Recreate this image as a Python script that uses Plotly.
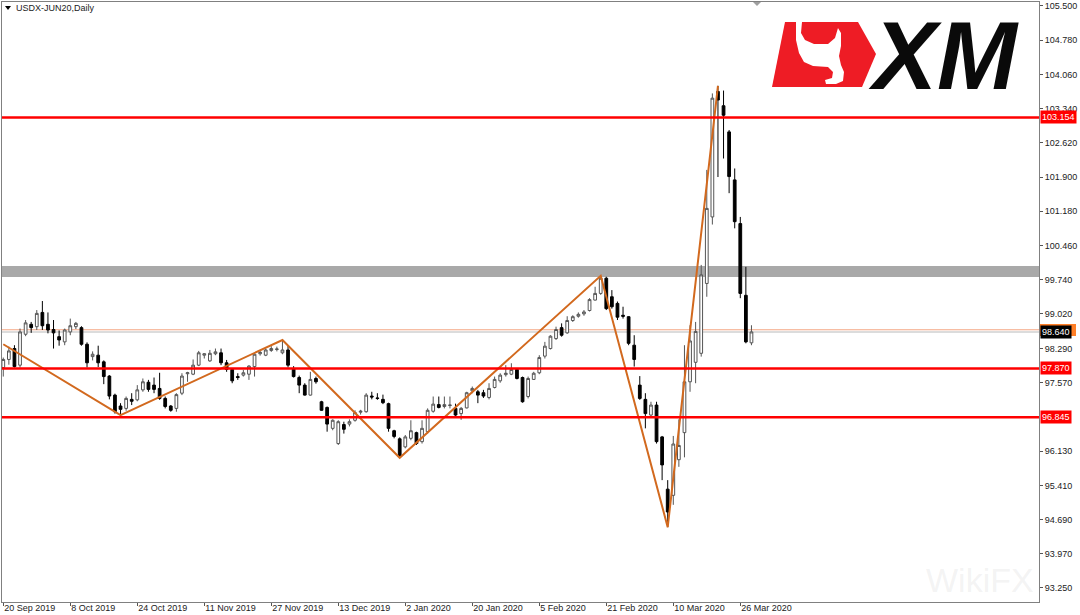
import pandas as pd
import plotly.graph_objects as go

# trading days of the USDX-JUN20 daily chart (no bars on Christmas / New Year)
dates = pd.bdate_range("2019-09-20", "2020-03-30")
dates = [d.strftime("%Y-%m-%d") for d in dates if d.strftime("%m-%d") not in ("12-25", "01-01")]

opens = [
  97.89, 98.06, 98.29, 97.94, 98.59, 98.80, 98.75, 99.05, 98.80, 98.69,
  98.54, 98.43, 98.64, 98.75, 98.73, 98.38, 98.12, 98.15, 98.01, 97.71,
  97.31, 97.08, 97.03, 97.22, 97.21, 97.42, 97.58, 97.52, 97.45, 97.24,
  97.08, 97.03, 97.35, 97.76, 97.75, 97.94, 98.15, 98.03, 98.18, 98.20,
  97.99, 97.85, 97.70, 97.73, 97.75, 97.91, 98.18, 98.15, 98.25, 98.27,
  98.20, 98.26, 97.87, 97.68, 97.52, 97.31, 97.66, 97.17, 97.05, 96.61,
  96.29, 96.69, 96.70, 96.78, 96.95, 96.96, 97.29, 97.25, 97.22, 97.13,
  96.56, 96.39, 96.22, 96.40, 96.52, 96.33, 96.54, 96.97, 97.11, 97.07,
  97.09, 97.03, 96.92, 97.04, 97.40, 97.38, 97.36, 97.26, 97.47, 97.61,
  97.74, 97.75, 97.85, 97.68, 97.28, 97.64, 97.78, 98.13, 98.29, 98.50,
  98.73, 98.62, 98.88, 98.97, 99.02, 99.09, 99.31, 99.45, 99.77, 99.38,
  99.24, 98.99, 98.96, 98.36, 97.52, 97.22, 96.89, 97.10, 96.43, 95.33,
  95.20, 95.95, 96.52, 97.59, 98.00, 98.19, 99.66, 101.06, 103.70, 103.40,
  102.85, 101.84, 100.92, 99.41, 98.41,
]
highs = [
  98.10, 98.33, 98.36, 98.71, 98.89, 98.85, 99.10, 99.29, 99.05, 98.89,
  98.67, 98.71, 98.92, 98.85, 98.76, 98.42, 98.23, 98.35, 98.04, 97.73,
  97.34, 97.14, 97.28, 97.35, 97.52, 97.66, 97.63, 97.68, 97.78, 97.28,
  97.10, 97.35, 97.77, 97.80, 98.06, 98.24, 98.19, 98.26, 98.29, 98.29,
  98.05, 97.87, 97.77, 97.84, 97.94, 98.19, 98.25, 98.29, 98.34, 98.33,
  98.47, 98.36, 97.92, 97.72, 97.56, 97.80, 97.70, 97.19, 97.07, 96.80,
  96.78, 96.75, 96.80, 96.99, 97.00, 97.35, 97.38, 97.35, 97.32, 97.15,
  96.58, 96.42, 96.47, 96.78, 96.54, 96.78, 97.03, 97.28, 97.28, 97.28,
  97.28, 97.13, 97.06, 97.38, 97.49, 97.42, 97.42, 97.56, 97.70, 97.77,
  97.94, 97.98, 97.87, 97.70, 97.70, 97.80, 98.15, 98.43, 98.57, 98.75,
  98.82, 98.97, 98.99, 99.05, 99.10, 99.35, 99.59, 99.82, 99.80, 99.52,
  99.28, 99.17, 98.97, 98.57, 97.71, 97.35, 97.17, 97.17, 96.45, 95.52,
  96.45, 96.80, 98.36, 98.78, 98.85, 100.05, 102.05, 103.66, 103.82, 103.72,
  102.89, 102.08, 101.06, 100.01, 98.78,
]
lows = [
  97.70, 97.95, 97.89, 97.89, 98.55, 98.62, 98.68, 98.68, 98.61, 98.29,
  98.35, 98.36, 98.57, 98.70, 98.35, 97.89, 98.04, 97.90, 97.54, 97.22,
  96.92, 96.90, 96.98, 97.10, 97.18, 97.38, 97.38, 97.35, 97.21, 97.03,
  96.96, 96.96, 97.31, 97.59, 97.73, 97.92, 98.08, 98.01, 98.15, 97.94,
  97.80, 97.56, 97.63, 97.70, 97.63, 97.70, 98.14, 98.13, 98.22, 98.23,
  98.17, 97.89, 97.68, 97.35, 97.30, 97.30, 97.55, 96.98, 96.54, 96.57,
  96.26, 96.50, 96.65, 96.75, 96.90, 96.94, 97.22, 97.21, 97.12, 96.54,
  96.40, 95.99, 96.19, 96.36, 96.26, 96.29, 96.50, 96.94, 97.03, 97.03,
  97.03, 96.85, 96.79, 97.03, 97.35, 97.14, 97.25, 97.22, 97.45, 97.57,
  97.70, 97.73, 97.64, 97.15, 97.24, 97.63, 97.75, 98.08, 98.27, 98.47,
  98.54, 98.60, 98.85, 98.94, 98.98, 99.07, 99.30, 99.42, 99.10, 99.13,
  98.89, 98.92, 98.36, 97.91, 97.21, 96.61, 96.85, 96.29, 95.52, 94.53,
  95.00, 95.80, 96.00, 97.38, 97.56, 98.12, 99.38, 100.90, 101.90, 102.29,
  101.56, 100.82, 99.35, 98.40, 98.36,
]
closes = [
  98.06, 98.24, 97.91, 98.64, 98.83, 98.73, 99.03, 98.77, 98.68, 98.62,
  98.47, 98.68, 98.77, 98.82, 98.38, 97.99, 98.17, 97.99, 97.70, 97.29,
  96.96, 97.01, 97.24, 97.18, 97.42, 97.59, 97.43, 97.43, 97.24, 97.07,
  96.99, 97.32, 97.71, 97.78, 97.94, 98.20, 98.18, 98.19, 98.22, 97.99,
  97.85, 97.61, 97.68, 97.78, 97.92, 98.17, 98.21, 98.26, 98.29, 98.28,
  98.26, 97.94, 97.70, 97.52, 97.31, 97.64, 97.59, 96.99, 96.70, 96.78,
  96.75, 96.59, 96.75, 96.94, 96.97, 97.31, 97.27, 97.24, 97.15, 96.61,
  96.44, 96.02, 96.43, 96.56, 96.29, 96.61, 96.99, 97.12, 97.05, 97.11,
  97.10, 96.89, 97.03, 97.36, 97.45, 97.31, 97.29, 97.45, 97.64, 97.73,
  97.77, 97.85, 97.66, 97.17, 97.66, 97.77, 98.10, 98.34, 98.55, 98.69,
  98.57, 98.88, 98.96, 99.01, 99.06, 99.32, 99.45, 99.77, 99.13, 99.17,
  98.95, 98.97, 98.40, 98.06, 97.24, 96.92, 97.10, 96.33, 95.84, 94.85,
  96.28, 96.25, 97.59, 98.45, 98.65, 99.84, 101.24, 103.56, 103.52, 103.20,
  101.91, 100.96, 99.45, 98.43, 98.64,
]

# zigzag swing points (orange trend line)
zz_dates = ["2019-09-20", "2019-10-21", "2019-11-29", "2019-12-31", "2020-02-20", "2020-03-09", "2020-03-20"]
zz_prices = [98.38, 96.89, 98.47, 95.99, 99.82, 94.53, 103.82]

# horizontal levels
red_levels = [103.154, 97.870, 96.845]
zone_low, zone_high = 99.795, 100.026
last_price = 98.640
ask_price = 98.685

tick_dates = ["2019-09-20", "2019-10-08", "2019-10-24", "2019-11-11", "2019-11-27", "2019-12-13",
              "2020-01-02", "2020-01-20", "2020-02-05", "2020-02-21", "2020-03-10", "2020-03-26"]
tick_text = [pd.Timestamp(d).strftime("%-d %b %Y") for d in tick_dates]
y_ticks = [105.500, 104.780, 104.060, 103.340, 102.620, 101.900, 101.180, 100.460, 99.740,
           99.020, 98.290, 97.570, 96.130, 95.410, 94.690, 93.970, 93.250]

W, H = 1080, 615
ML, MR, MT, MB = 2, 41, 2, 13
PW, PH = W - ML - MR, H - MT - MB
FONT = "Liberation Sans"


def px(x):
  return (x - ML) / PW


def py(y):
  return 1 - (y - MT) / PH


def path(points):
  return "M " + " L ".join(f"{px(x):.5f},{py(y):.5f}" for x, y in points) + " Z"


fig = go.Figure()
fig.add_trace(go.Candlestick(
  x=dates, open=opens, high=highs, low=lows, close=closes,
  increasing=dict(line=dict(color="#555555", width=1), fillcolor="#ffffff"),
  decreasing=dict(line=dict(color="#000000", width=1), fillcolor="#000000"),
  hoverinfo="skip", showlegend=False,
))
fig.add_trace(go.Scatter(
  x=zz_dates, y=zz_prices, mode="lines",
  line=dict(color="#d2691e", width=2), hoverinfo="skip", showlegend=False,
))

shapes = []
# grey resistance zone (behind candles)
shapes.append(dict(type="rect", xref="paper", yref="y", x0=0, x1=1, y0=zone_low, y1=zone_high,
                   fillcolor="#a9a9a9", line=dict(width=0), layer="below"))
# last price / ask lines
shapes.append(dict(type="line", xref="paper", yref="y", x0=0, x1=1, y0=last_price, y1=last_price,
                   line=dict(color="#dcdcdc", width=2), layer="below"))
shapes.append(dict(type="line", xref="paper", yref="y", x0=0, x1=1, y0=ask_price, y1=ask_price,
                   line=dict(color="#f4a582", width=1), layer="below"))
for lv in red_levels:
  shapes.append(dict(type="line", xref="paper", yref="y", x0=0, x1=1, y0=lv, y1=lv,
                     line=dict(color="#ff0000", width=2.5)))

# ask label, almost hidden behind the last-price label
shapes.append(dict(type="rect", xref="paper", yref="paper", x0=px(1040), x1=px(1076), y0=py(336), y1=py(324),
                   fillcolor="#ff7f27", line=dict(width=0)))

# chart-shift marker and title triangle
shapes.append(dict(type="path", xref="paper", yref="paper", path=path([(753, 2), (761, 2), (757, 6)]),
                   fillcolor="#a0a0a0", line=dict(width=0)))
shapes.append(dict(type="path", xref="paper", yref="paper", path=path([(5, 6), (11, 6), (8, 10)]),
                   fillcolor="#000000", line=dict(width=0)))

# XM logo: red block with white bull head
shapes.append(dict(type="path", xref="paper", yref="paper",
                   path=path([(785, 22), (858, 22), (876, 54), (862, 87), (772, 87)]),
                   fillcolor="#ee1c25", line=dict(width=0)))
shapes.append(dict(type="path", xref="paper", yref="paper",
                   path=path([(796, 22), (802, 22), (801, 33), (805, 40), (814, 44), (828, 44), (835, 38),
                              (838, 28), (841, 33), (841, 46), (839, 56), (841, 65), (844, 72), (843, 81),
                              (836, 84), (826, 84), (825, 80), (832, 78), (833, 72), (828, 67), (813, 66),
                              (804, 62), (799, 53), (796, 40)]),
                   fillcolor="#ffffff", line=dict(width=0)))

annotations = [
  dict(xref="paper", yref="paper", x=px(14), y=py(8), xanchor="left", yanchor="middle",
       text="USDX-JUN20,Daily", showarrow=False, font=dict(family=FONT, size=9, color="#222222")),
  dict(xref="paper", yref="paper", x=px(943), y=py(55), xanchor="center", yanchor="middle",
       text="<b><i>XM</i></b>", showarrow=False, font=dict(family=FONT, size=96, color="#0a0a0a")),
  dict(xref="paper", yref="paper", x=px(980), y=py(580), xanchor="center", yanchor="middle",
       text="WikiFX", showarrow=False, font=dict(family=FONT, size=34, color="rgba(190,190,190,0.18)")),
]
# price labels on the right scale
annotations.append(dict(xref="paper", yref="y", x=1, y=last_price, xanchor="left", yanchor="middle",
                        xshift=1, text=f"{last_price:.3f}", showarrow=False, bgcolor="#000000", borderpad=1,
                        font=dict(family=FONT, size=9, color="#ffffff")))
for lv in red_levels:
  annotations.append(dict(xref="paper", yref="y", x=1, y=lv, xanchor="left", yanchor="middle",
                          xshift=1, text=f"{lv:.3f}", showarrow=False, bgcolor="#ff0000", borderpad=1,
                          font=dict(family=FONT, size=9, color="#ffffff")))

fig.update_layout(
  width=W, height=H,
  margin=dict(l=ML, r=MR, t=MT, b=MB, autoexpand=False),
  paper_bgcolor="#ffffff", plot_bgcolor="#ffffff",
  font=dict(family=FONT, size=9, color="#222222"),
  shapes=shapes, annotations=annotations,
  showlegend=False, hovermode=False,
  xaxis=dict(
    type="category", range=[-0.23, 185.5], rangeslider=dict(visible=False), automargin=False,
    tickvals=tick_dates, ticktext=tick_text, ticks="outside", ticklen=3, tickcolor="#555555",
    ticklabelposition="outside right", ticklabelstandoff=-3, showgrid=False, zeroline=False,
    showline=True, mirror=True, linecolor="#808080", linewidth=1,
  ),
  yaxis=dict(
    side="right", range=[92.955, 105.584], tickvals=y_ticks, tickformat=".3f", automargin=False,
    ticks="outside", ticklen=3, tickcolor="#555555", showgrid=False, zeroline=False,
    showline=True, mirror=True, linecolor="#808080", linewidth=1,
  ),
)

# the page's default body margin would shift the chart by 8 px
fig.write_html("out.html", config={"displayModeBar": False},
               post_script="document.body.style.margin = '0px';")
